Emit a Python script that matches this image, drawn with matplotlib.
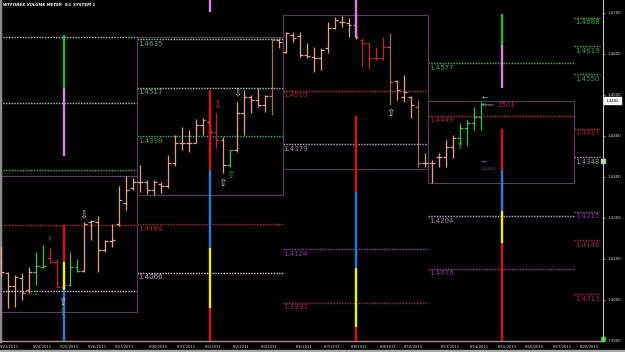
import matplotlib
matplotlib.use("Agg")
import matplotlib.pyplot as plt
from matplotlib.patches import Rectangle

# --- price bars (6h bars) ---
opens = [1.4092, 1.4065, 1.4033, 1.4053, 1.4023, 1.4067, 1.4080, 1.4102, 1.4092, 1.4031,
         1.4036, 1.4080, 1.4070, 1.4189, 1.4189, 1.4121, 1.4143, 1.4184, 1.4236, 1.4272,
         1.4287, 1.4287, 1.4267, 1.4282, 1.4277, 1.4333, 1.4382, 1.4382, 1.4382, 1.4426,
         1.4433, 1.4409, 1.4389, 1.4328, 1.4365, 1.4455, 1.4494, 1.4487, 1.4475, 1.4497,
         1.4633, 1.4604, 1.4646, 1.4643, 1.4597, 1.4592, 1.4590, 1.4614, 1.4663, 1.4677,
         1.4675, 1.4670, 1.4633, 1.4626, 1.4590, 1.4590, 1.4616, 1.4533, 1.4494, 1.4494,
         1.4470, 1.4333, 1.4333, 1.4348, 1.4348, 1.4372, 1.4394, 1.4419, 1.4431, 1.4446]
highs = [1.4131, 1.4067, 1.4060, 1.4065, 1.4080, 1.4116, 1.4133, 1.4126, 1.4099, 1.4080,
         1.4116, 1.4099, 1.4189, 1.4194, 1.4204, 1.4145, 1.4184, 1.4277, 1.4302, 1.4297,
         1.4328, 1.4292, 1.4292, 1.4287, 1.4353, 1.4402, 1.4421, 1.4414, 1.4441, 1.4443,
         1.4443, 1.4455, 1.4397, 1.4365, 1.4482, 1.4511, 1.4499, 1.4516, 1.4499, 1.4638,
         1.4638, 1.4653, 1.4653, 1.4653, 1.4626, 1.4616, 1.4614, 1.4677, 1.4690, 1.4692,
         1.4687, 1.4702, 1.4638, 1.4626, 1.4616, 1.4641, 1.4650, 1.4536, 1.4548, 1.4497,
         1.4487, 1.4358, 1.4341, 1.4358, 1.4389, 1.4402, 1.4431, 1.4438, 1.4470, 1.4482]
lows = [1.4058, 1.3980, 1.3982, 1.3999, 1.4016, 1.4036, 1.4077, 1.4089, 1.4028, 1.4023,
        1.4033, 1.4067, 1.4067, 1.4145, 1.4067, 1.4116, 1.4128, 1.4180, 1.4219, 1.4267,
        1.4263, 1.4258, 1.4255, 1.4260, 1.4272, 1.4326, 1.4365, 1.4360, 1.4382, 1.4402,
        1.4389, 1.4370, 1.4309, 1.4324, 1.4360, 1.4402, 1.4455, 1.4470, 1.4458, 1.4450,
        1.4614, 1.4602, 1.4629, 1.4592, 1.4590, 1.4555, 1.4560, 1.4602, 1.4660, 1.4665,
        1.4641, 1.4636, 1.4568, 1.4563, 1.4585, 1.4585, 1.4475, 1.4487, 1.4482, 1.4443,
        1.4324, 1.4324, 1.4284, 1.4324, 1.4324, 1.4346, 1.4377, 1.4377, 1.4414, 1.4414]
closes = [1.4067, 1.4033, 1.4055, 1.4016, 1.4067, 1.4082, 1.4082, 1.4092, 1.4031, 1.4036,
          1.4080, 1.4070, 1.4184, 1.4192, 1.4121, 1.4143, 1.4145, 1.4243, 1.4267, 1.4287,
          1.4287, 1.4267, 1.4287, 1.4277, 1.4333, 1.4382, 1.4382, 1.4382, 1.4426, 1.4438,
          1.4409, 1.4389, 1.4328, 1.4365, 1.4455, 1.4494, 1.4487, 1.4475, 1.4497, 1.4633,
          1.4629, 1.4651, 1.4638, 1.4597, 1.4594, 1.4590, 1.4609, 1.4663, 1.4682, 1.4677,
          1.4670, 1.4641, 1.4626, 1.4590, 1.4590, 1.4616, 1.4531, 1.4511, 1.4506, 1.4475,
          1.4333, 1.4333, 1.4333, 1.4348, 1.4372, 1.4394, 1.4419, 1.4431, 1.4446, 1.4477]
# s = normal, g = green, r = red, b = brown, p = pink
bar_kind = list("sssssggrrrggsssssssssssssssssssrsgsssssbsssssssssssprrrrbsssbsssssgggg")

# --- dates on the time axis ---
date_labels = ["5/23/2011", "5/24/2011", "5/25/2011", "5/26/2011", "5/27/2011", "5/30/2011",
               "5/31/2011", "6/1/2011", "6/2/2011", "6/3/2011", "6/6/2011", "6/7/2011",
               "6/8/2011", "6/9/2011", "6/10/2011", "6/13/2011", "6/14/2011", "6/15/2011",
               "6/16/2011", "6/17/2011", "6/20/2011"]
date_pos = [1.2, 5.9, 9.8, 13.9, 17.8, 22.6, 26.7, 30.5, 34.6, 38.6, 43.6, 47.6,
            51.5, 55.7, 59.3, 64.7, 68.8, 72.8, 76.7, 80.7, 84.7]

# --- S/L levels per weekly section ---
sec0_levels = [1.4641, 1.4479, 1.4316, 1.4182, 1.4021]
sec0_kinds = ["pale", "pale", "green", "red", "pink"]
sec1_levels = [1.4635, 1.4517, 1.4399, 1.4184, 1.4066]
sec1_kinds = ["pale", "pale", "green", "red", "pink"]
sec2_levels = [1.4510, 1.4379, 1.4124, 1.3993]
sec2_kinds = ["red", "lilac", "purple", "wine"]
sec3_levels = [1.4577, 1.4449, 1.4204, 1.4076]
sec3_kinds = ["green", "red", "lilac", "purple"]
sec4_levels = [1.4688, 1.4619, 1.4550, 1.4417, 1.4348, 1.4215, 1.4146, 1.4013]
sec4_kinds = ["green", "green", "green", "red", "lilac", "purple", "wine", "wine"]

box_top = [1.4302, 1.4640, 1.4694, 1.4485]
box_bottom = [1.3971, 1.4255, 1.4320, 1.4284]

# --- volume meter columns: (from, to, colour) ---
meter_pos = [9, 30, 51, 72]
meter_segs = [
    [(1.4646, 1.4516, "green"), (1.4516, 1.4350, "pink"), (1.4182, 1.4092, "red"),
     (1.4092, 1.4023, "yellow"), (1.4023, 1.3900, "blue")],
    [(1.4731, 1.4702, "pink"), (1.4511, 1.4316, "red"), (1.4316, 1.4126, "blue"),
     (1.4126, 1.3980, "yellow"), (1.3980, 1.3900, "red")],
    [(1.4731, 1.4638, "pink"), (1.4448, 1.4263, "red"), (1.4263, 1.4077, "blue"),
     (1.4077, 1.3933, "yellow"), (1.3933, 1.3900, "red")],
    [(1.4697, 1.4621, "green"), (1.4621, 1.4516, "pink"), (1.4416, 1.4316, "red"),
     (1.4316, 1.4216, "blue"), (1.4216, 1.4138, "yellow"), (1.4138, 1.3900, "red")],
]

# --- signal arrows ---
sig_x = [11.9, 8.9, 8.9, 5.0, 7.0, 31.1, 34.0, 31.9, 33.0, 56.0, 51.0, 65.9]
sig_y = [1.4206, 1.3994, 1.3970, 1.4016, 1.4148, 1.4475, 1.4504, 1.4285, 1.4304, 1.4455, 1.4707, 1.4375]
sig_dir = ["dn", "up", "up", "up", "dn", "dn", "dn", "up", "up", "up", "dn", "up"]
sig_kind = ["white", "white", "green", "green", "red", "red", "white", "white", "green", "white", "pink", "green"]

price_ticks = [1.39, 1.40, 1.41, 1.42, 1.43, 1.44, 1.45, 1.46, 1.47]
last_price = 1.4485

# colours
bar_colors = {"s": "#e8a383", "g": "#3fc43f", "r": "#c82424", "b": "#a86c55", "p": "#e070c0"}
line_colors = {"pale": "#a8d4a0", "green": "#48c048", "red": "#c83030", "pink": "#e8c8e0",
               "lilac": "#c8a8e0", "purple": "#a040b0", "wine": "#a83058"}
label_colors = {"pale": "#78a078", "green": "#40a040", "red": "#b02828", "pink": "#b8b0b8",
                "lilac": "#9890a8", "purple": "#8838a0", "wine": "#a02850"}
meter_colors = {"green": "#20c020", "pink": "#e080e0", "red": "#e01010",
                "blue": "#2080e0", "yellow": "#f0f000"}
sig_colors = {"white": "#d8d8d8", "green": "#40a040", "red": "#c04040", "pink": "#e060c0"}

edges = [-0.14, 19.6, 40.5, 61.4, 82.4, 86.6]

fig = plt.figure(figsize=(6.25, 3.52), dpi=100, facecolor="black")
ax = fig.add_axes([0, 11.3 / 352, 603 / 625, 340.7 / 352], facecolor="black")
ax.set_xlim(edges[0], edges[-1])
ax.set_ylim(1.3900, 1.4731)

# level lines + labels
sections = [(sec0_levels, sec0_kinds, False), (sec1_levels, sec1_kinds, True),
            (sec2_levels, sec2_kinds, True), (sec3_levels, sec3_kinds, True),
            (sec4_levels, sec4_kinds, True)]
for s, (lv, kinds, show) in enumerate(sections):
    x0, x1 = edges[s], edges[s + 1] - (0.45 if s == 4 else 0)
    for p, k in zip(lv, kinds):
        ax.hlines(p, x0, x1, colors=line_colors[k], lw=1.0, linestyles=(0, (1, 1)), zorder=1)
        if show:
            ax.annotate(f"{p:.4f}", (x0 + 0.15, p), xytext=(0, -1.2), textcoords="offset points",
                        va="top", ha="left", fontsize=5, color=label_colors[k], zorder=5)

# section boxes
for s in range(4):
    ax.add_patch(Rectangle((edges[s], box_bottom[s]), edges[s + 1] - edges[s],
                           box_top[s] - box_bottom[s], fill=False, ec="#5e3a60", lw=0.8, zorder=1))

# OHLC bars
idx = list(range(len(opens)))
cols = [bar_colors[k] for k in bar_kind]
ax.vlines(idx, lows, highs, colors=cols, lw=0.9, zorder=3)
ax.hlines(opens, [i - 0.42 for i in idx], idx, colors=cols, lw=0.9, zorder=3)
ax.hlines(closes, idx, [i + 0.42 for i in idx], colors=cols, lw=0.9, zorder=3)

# volume meter columns
for x, segs in zip(meter_pos, meter_segs):
    for top, bot, c in segs:
        ax.vlines(x, bot, top, colors=meter_colors[c], lw=1.7, zorder=4)

# signal arrows
for x, y, d, k in zip(sig_x, sig_y, sig_dir, sig_kind):
    small = k in ("pink",) or (k == "green" and x < 6) or (k == "red" and x < 8)
    ax.text(x, y, "\u21e7" if d == "up" else "\u21e9", color=sig_colors[k],
            fontsize=5 if small else 7, ha="center", va="center", zorder=6)

# little markers near the last bar
ax.text(69.6, 1.4489, "\u2190", color="#60d0c0", fontsize=5, ha="center", va="center", zorder=6)
ax.text(69.3, 1.4476, "Cmm", color="#d0d0d0", fontsize=3, ha="left", va="center", zorder=6)
ax.text(71.4, 1.4476, "1501", color="#c03030", fontsize=5, ha="left", va="center", zorder=6)
ax.text(69.6, 1.4334, "\u2190", color="#a040b0", fontsize=5, ha="center", va="center", zorder=6)
ax.text(69.1, 1.4319, "1.4333", color="#a040b0", fontsize=3, ha="left", va="center", zorder=6)

# axes styling
ax.spines["top"].set_visible(False)
ax.spines["left"].set_color("#8c8c8c")
ax.spines["left"].set_linewidth(2.5)
ax.spines["right"].set_color("#c8c8c8")
ax.spines["right"].set_linewidth(0.8)
ax.spines["bottom"].set_color("#c09090")
ax.spines["bottom"].set_linestyle((0, (1, 1)))
ax.spines["bottom"].set_linewidth(1.0)

ax.set_xticks(date_pos)
ax.set_xticklabels(date_labels, fontsize=2.7, color="#e0e0e0")
ax.tick_params(axis="x", length=0, pad=3.2)
ax.yaxis.tick_right()
ax.set_yticks(price_ticks)
ax.set_yticklabels([f"{p:.4f}" for p in price_ticks], fontsize=2.8, color="#e0e0e0")
ax.tick_params(axis="y", length=1.5, width=0.5, color="#c8c8c8", pad=1.5)

ax.text(1.004, last_price, f"{last_price:.4f}", transform=ax.get_yaxis_transform(),
        fontsize=2.8, color="black", va="center", ha="left",
        bbox=dict(boxstyle="square,pad=0.4", fc="white", ec="white"))
ax.plot([1.0], [1.4339], marker="s", ms=2.5, color="#b0e0b0", transform=ax.get_yaxis_transform(),
        clip_on=False)
ax.plot([1.0], [1.3904], marker="s", ms=3.5, color="#30c030", transform=ax.get_yaxis_transform(),
        clip_on=False)

fig.text(3 / 625, 1 - 5 / 352, "WTFOREX VOLUME METER  S/L SYSTEM 1", color="white",
         fontsize=2.9, style="italic", fontweight="bold", va="center", ha="left")
fig.patches.append(Rectangle((0, 0), 1, 2.5 / 352, transform=fig.transFigure,
                             color="#a8a8a8", zorder=0))

fig.savefig("out.png", dpi=100, facecolor="black")
